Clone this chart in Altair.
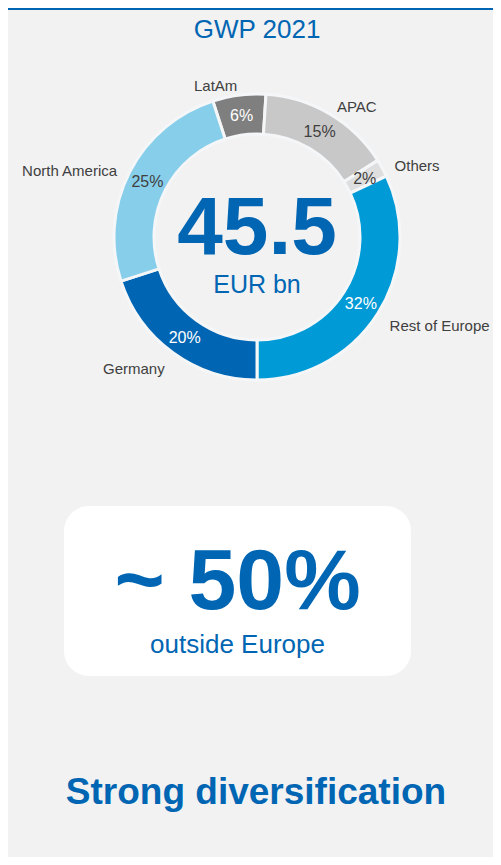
import math
import altair as alt
import pandas as pd

# ---- data ----
TITLE = "GWP 2021"
TOTAL = "45.5"
TOTAL_UNIT = "EUR bn"
HIGHLIGHT = "~ 50%"
HIGHLIGHT_SUB = "outside Europe"
FOOTER = "Strong diversification"

regions = ["LatAm", "APAC", "Others", "Rest of Europe", "Germany", "North America"]
shares = [6, 15, 2, 32, 20, 25]

# ---- styles ----
BLUE = "#0066b3"
BG = "#f2f2f2"
seg_colors = ["#7f7f7f", "#c8c8c8", "#dedede", "#009ad6", "#0066b3", "#87ceeb"]
white_label_regions = ["LatAm", "Rest of Europe", "Germany"]
FONT = "Liberation Sans"
W, H = 485, 849
CX, CY = 249, 229
START_DEG = -18
start = 2 * math.pi + math.radians(START_DEG)
theta_scale = alt.Scale(domain=[0, 100], range=[start, start + 2 * math.pi])

df = pd.DataFrame({"region": regions, "share": shares, "order": list(range(len(regions)))})
df["pct"] = [f"{s}%" for s in shares]

base = alt.Chart(df)

arcs = base.mark_arc(innerRadius=103, outerRadius=143, stroke="#f4f6f8", strokeWidth=3).encode(
    theta=alt.Theta("share:Q", stack=True, scale=theta_scale),
    order=alt.Order("order:Q"),
    color=alt.Color("region:N", scale=alt.Scale(domain=regions, range=seg_colors), legend=None),
    x=alt.value(CX),
    y=alt.value(CY),
)

pos = base.transform_window(
    cum="sum(share)", sort=[alt.SortField("order")], frame=[None, 0]
).transform_calculate(
    mid="datum.cum - datum.share / 2",
    ang=f"{START_DEG} + (datum.cum - datum.share / 2) * 3.6",
).transform_calculate(
    side="datum.ang > 0 && datum.ang < 180 ? 'left' : 'right'",
    light="indexof(" + str(white_label_regions) + ", datum.region) >= 0 ? 1 : 0",
)

def pct_layer(flag, color):
    return pos.transform_filter(f"datum.light == {flag}").mark_text(
        radius=123, font=FONT, fontSize=16, color=color, align="center", baseline="middle", dy=1
    ).encode(
        theta=alt.Theta("mid:Q", stack=False, scale=theta_scale),
        text="pct:N",
        x=alt.value(CX),
        y=alt.value(CY),
    )

def name_layer(side):
    return pos.transform_filter(f"datum.side == '{side}'").mark_text(
        radius=157, font=FONT, fontSize=15, color="#404040", align=side, baseline="middle", dy=5
    ).encode(
        theta=alt.Theta("mid:Q", stack=False, scale=theta_scale),
        text="region:N",
        x=alt.value(CX),
        y=alt.value(CY),
    )

def label(txt, x, y, size, bold=False):
    return alt.Chart(pd.DataFrame({"t": [txt]})).mark_text(
        font=FONT, fontSize=size, fontWeight="bold" if bold else "normal",
        color=BLUE, align="center", baseline="alphabetic"
    ).encode(x=alt.value(x), y=alt.value(y), text="t:N")

top_line = alt.Chart(pd.DataFrame({"a": [0]})).mark_rule(color=BLUE, strokeWidth=2).encode(
    x=alt.value(0), x2=alt.value(W), y=alt.value(1)
)

box = alt.Chart(pd.DataFrame({"a": [0]})).mark_rect(cornerRadius=25, color="white").encode(
    x=alt.value(56), x2=alt.value(403), y=alt.value(498), y2=alt.value(668)
)

chart = alt.layer(
    top_line,
    arcs,
    pct_layer(1, "white"),
    pct_layer(0, "#404040"),
    name_layer("left"),
    name_layer("right"),
    label(TITLE, 249, 29.5, 26),
    label(TOTAL, 249, 246, 82, bold=True),
    label(TOTAL_UNIT, 249, 285, 25),
    box,
    label(HIGHLIGHT, 229.5, 601, 86, bold=True),
    label(HIGHLIGHT_SUB, 229.5, 645, 26),
    label(FOOTER, 248, 796, 37, bold=True),
).properties(
    width=W, height=H, autosize=alt.AutoSizeParams(type="none"), padding=0, background=BG
).configure_view(strokeWidth=0)

chart.save("out.html", embed_options={"renderer": "svg", "actions": False})
